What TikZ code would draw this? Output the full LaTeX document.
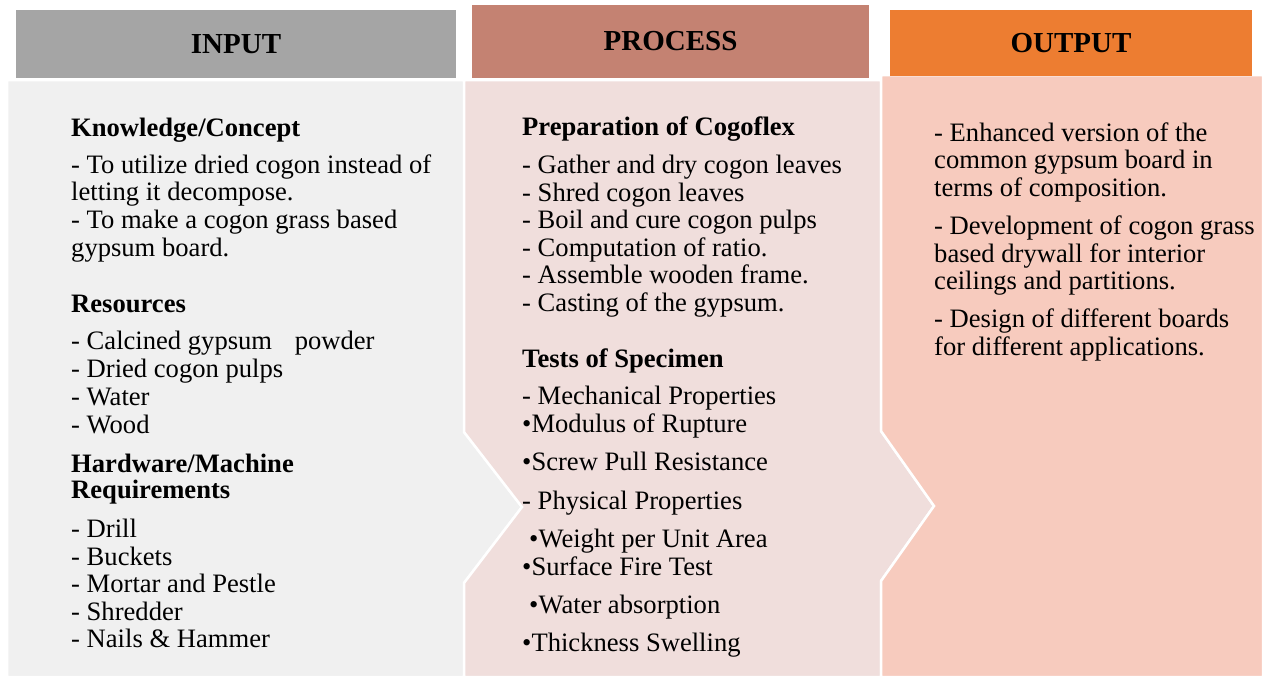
\documentclass[tikz,border=0pt]{standalone}
\usepackage{fontspec}
\setmainfont{Liberation Serif}
\definecolor{hdrIn}{HTML}{A5A5A5}
\definecolor{hdrProc}{HTML}{C48272}
\definecolor{hdrOut}{HTML}{ED7D31}
\definecolor{bodyIn}{HTML}{F0F0F0}
\definecolor{bodyProc}{HTML}{F0DEDC}
\definecolor{bodyOut}{HTML}{F7CBBE}
\tikzset{
  hdr/.style={inner sep=0pt, minimum height=68pt, font=\bfseries\fontsize{29}{30}\selectfont},
  panel/.style={draw=white, line width=2.5pt, line join=miter},
  txt/.style={anchor=base west, inner sep=0pt, font=\fontsize{26.6}{28}\selectfont},
  hd/.style={anchor=base west, inner sep=0pt, font=\bfseries\fontsize{26.6}{28}\selectfont}
}
\begin{document}
\begin{tikzpicture}[x=1pt,y=-1pt]
\useasboundingbox[fill=white] (0,0) rectangle (1265,677);
% body panels
\path[panel, fill=bodyIn] (7,80) -- (464,80) -- (464,432) -- (522,507) -- (464,583) -- (464,677) -- (7,677) -- cycle;
\path[panel, fill=bodyProc] (464,80) -- (881,80) -- (881,431) -- (934,506) -- (881,581) -- (881,677) -- (464,677) -- (464,583) -- (522,507) -- (464,432) -- cycle;
\path[panel, fill=bodyOut] (881,75) -- (1263,75) -- (1263,677) -- (881,677) -- (881,581) -- (934,506) -- (881,431) -- cycle;
% headers
\node[hdr, fill=hdrIn, minimum width=440pt, minimum height=68pt] (hin) at (236,44) {INPUT};
\node[hdr, fill=hdrProc, minimum width=397pt, minimum height=73pt] (hproc) at (670.5,41.5) {PROCESS};
\node[hdr, fill=hdrOut, minimum width=362pt, minimum height=66pt] (hout) at (1071,43) {OUTPUT};
% INPUT text
\node[hd]  (k0) at (71,136) {Knowledge/Concept};
\node[txt] (k1) at (71,173) {- To utilize dried cogon instead of};
\node[txt] (k2) at (71,200.5) {letting it decompose.};
\node[txt] (k3) at (71,228) {- To make a cogon grass based};
\node[txt] (k4) at (71,256) {gypsum board.};
\node[hd]  (r0) at (71,312) {Resources};
\node[txt] (r1) at (71,349) {- Calcined gypsum\hspace{16pt} powder};
\node[txt] (r2) at (71,377) {- Dried cogon pulps};
\node[txt] (r3) at (71,405) {- Water};
\node[txt] (r4) at (71,433) {- Wood};
\node[hd]  (h0) at (71,472) {Hardware/Machine};
\node[hd]  (h1) at (71,498) {Requirements};
\node[txt] (h2) at (71,537) {- Drill};
\node[txt] (h3) at (71,565) {- Buckets};
\node[txt] (h4) at (71,592) {- Mortar and Pestle};
\node[txt] (h5) at (71,620) {- Shredder};
\node[txt] (h6) at (71,647) {- Nails \& Hammer};
% PROCESS text
\node[hd]  (p0) at (522,135) {Preparation of Cogoflex};
\node[txt] (p1) at (522,173) {- Gather and dry cogon leaves};
\node[txt] (p2) at (522,201) {- Shred cogon leaves};
\node[txt] (p3) at (522,228) {- Boil and cure cogon pulps};
\node[txt] (p4) at (522,256) {- Computation of ratio.};
\node[txt] (p5) at (522,283.5) {- Assemble wooden frame.};
\node[txt] (p6) at (522,311) {- Casting of the gypsum.};
\node[hd]  (t0) at (522,367) {Tests of Specimen};
\node[txt] (t1) at (522,404) {- Mechanical Properties};
\node[txt] (t2) at (522,432) {•Modulus of Rupture};
\node[txt] (t3) at (522,470) {•Screw Pull Resistance};
\node[txt] (t4) at (522,509) {- Physical Properties};
\node[txt] (t5) at (529,547) {•Weight per Unit Area};
\node[txt] (t6) at (522,575) {•Surface Fire Test};
\node[txt] (t7) at (529,613) {•Water absorption};
\node[txt] (t8) at (522,651) {•Thickness Swelling};
% OUTPUT text
\node[txt] (o1) at (934,141) {- Enhanced version of the};
\node[txt] (o2) at (934,168.5) {common gypsum board in};
\node[txt] (o3) at (934,196) {terms of composition.};
\node[txt] (o4) at (934,234) {- Development of cogon grass};
\node[txt] (o5) at (934,262) {based drywall for interior};
\node[txt] (o6) at (934,289.5) {ceilings and partitions.};
\node[txt] (o7) at (934,327) {- Design of different boards};
\node[txt] (o8) at (934,355) {for different applications.};
\end{tikzpicture}
\end{document}
